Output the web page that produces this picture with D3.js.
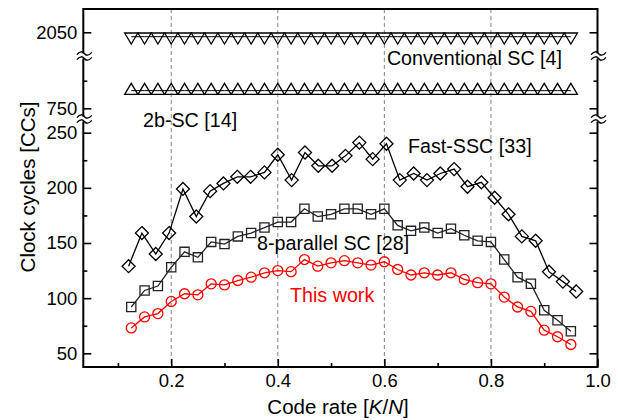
<!DOCTYPE html>
<html>
<head>
<meta charset="utf-8">
<script src="https://cdn.jsdelivr.net/npm/d3@7"></script>
<style>
  body { margin: 0; background: #fff; }
  text { font-family: "Liberation Sans", Arial, sans-serif; }
</style>
</head>
<body>
<div id="chart"></div>
<script>
// Code rates used by most designs (K/N)
const rates = [0.125, 0.15, 0.175, 0.2, 0.225, 0.25, 0.275, 0.3, 0.325, 0.35, 0.375, 0.4,
    0.425, 0.45, 0.475, 0.5, 0.525, 0.55, 0.575, 0.6, 0.625, 0.65, 0.675, 0.7,
    0.725, 0.75, 0.775, 0.8, 0.825, 0.85, 0.875, 0.9, 0.925, 0.95];
// Fast-SSC points sit on a slightly different rate grid
const fastRates = [0.12, 0.145, 0.171, 0.196, 0.222, 0.247, 0.273, 0.298, 0.324, 0.349, 0.375, 0.4,
    0.426, 0.451, 0.476, 0.502, 0.527, 0.553, 0.578, 0.604, 0.629, 0.655, 0.68, 0.705,
    0.731, 0.756, 0.782, 0.807, 0.833, 0.858, 0.884, 0.909, 0.935, 0.96];

const conventionalSC = [2046, 2046, 2046, 2046, 2046, 2046, 2046, 2046, 2046, 2046, 2046, 2046,
    2046, 2046, 2046, 2046, 2046, 2046, 2046, 2046, 2046, 2046, 2046, 2046,
    2046, 2046, 2046, 2046, 2046, 2046, 2046, 2046, 2046, 2046];
const twoBitSC = [766, 766, 766, 766, 766, 766, 766, 766, 766, 766, 766, 766,
    766, 766, 766, 766, 766, 766, 766, 766, 766, 766, 766, 766,
    766, 766, 766, 766, 766, 766, 766, 766, 766, 766];
const fastSSC = [129, 159, 140, 159, 199, 174, 197, 204, 210, 210, 214, 230,
    207, 232, 220, 220, 229, 241, 226, 240, 207, 213, 207, 213,
    217, 201, 205, 191, 176, 156, 152, 124, 115, 106];
const parallelSC = [92, 107, 111, 128, 142, 137, 151, 149, 156, 159, 164, 169,
    169, 181, 174, 176, 181, 181, 176, 181, 166, 161, 164, 159,
    163, 157, 152, 151, 135, 119, 113, 89, 80, 70];
const thisWork = [73, 83, 86, 97, 104, 103, 113, 112, 116, 119, 123, 125,
    124, 135, 129, 132, 134, 132, 130, 133, 126, 121, 123, 121,
    123, 117, 114, 113, 101, 92, 88, 71, 65, 58];

// Tick values
const xMajor = [0.2, 0.4, 0.6, 0.8, 1.0];
const xMinor = [0.1, 0.3, 0.5, 0.7, 0.9];
const yLowMajor = [50, 100, 150, 200, 250];
const yLowMinor = [75, 125, 175, 225];
const yMidMajor = [750];
const yMidMinor = [775];
const yTopMajor = [2050];

// Plot frame
const width = 618, height = 420;
const plotLeft = 83.3, plotRight = 597.5, plotTop = 9, plotBottom = 367;
const break1 = 56, break2 = 119;   // axis break positions (px)

const svg = d3.select("#chart").append("svg")
    .attr("width", width)
    .attr("height", height);

// Scales: one x, three stacked y segments
const x = d3.scaleLinear().domain([0.035, 1.0]).range([plotLeft, plotRight]);
const yTop = d3.scaleLinear().domain([2028.5, 2071.1]).range([break1, plotTop]);
const yMid = d3.scaleLinear().domain([740.3, 797.4]).range([break2, break1]);
const yLow = d3.scaleLinear().domain([37.6, 262.4]).range([plotBottom, break2]);

// Dashed vertical guides
svg.append("g").selectAll("line")
    .data([0.2, 0.4, 0.6, 0.8])
    .join("line")
    .attr("x1", d => x(d)).attr("x2", d => x(d))
    .attr("y1", plotTop).attr("y2", plotBottom)
    .attr("stroke", "#858585")
    .attr("stroke-width", 1)
    .attr("stroke-dasharray", "4,3");

// Axes helper
function styleAxis(g) {
    g.select(".domain").remove();
    g.selectAll(".tick line").attr("stroke", "#000").attr("stroke-width", 1.6);
    g.selectAll(".tick text")
        .attr("fill", "#000")
        .style("font-size", "18.5px");
}

// bottom axis
svg.append("g")
    .attr("transform", `translate(0,${plotBottom})`)
    .call(d3.axisBottom(x).tickValues(xMajor).tickSize(-8).tickPadding(7).tickFormat(d3.format(".1f")))
    .call(styleAxis);
svg.append("g")
    .attr("transform", `translate(0,${plotBottom})`)
    .call(d3.axisBottom(x).tickValues(xMinor).tickSize(-4).tickFormat(""))
    .call(styleAxis);

// left + right axes for each y segment
const segments = [
    { scale: yTop, major: yTopMajor, minor: [] },
    { scale: yMid, major: yMidMajor, minor: yMidMinor },
    { scale: yLow, major: yLowMajor, minor: yLowMinor }
];
segments.forEach(s => {
    svg.append("g")
        .attr("transform", `translate(${plotLeft},0)`)
        .call(d3.axisLeft(s.scale).tickValues(s.major).tickSize(-8).tickPadding(6).tickFormat(d3.format("d")))
        .call(styleAxis);
    svg.append("g")
        .attr("transform", `translate(${plotLeft},0)`)
        .call(d3.axisLeft(s.scale).tickValues(s.minor).tickSize(-4).tickFormat(""))
        .call(styleAxis);
    svg.append("g")
        .attr("transform", `translate(${plotRight},0)`)
        .call(d3.axisRight(s.scale).tickValues(s.major).tickSize(-8).tickFormat(""))
        .call(styleAxis);
    svg.append("g")
        .attr("transform", `translate(${plotRight},0)`)
        .call(d3.axisRight(s.scale).tickValues(s.minor).tickSize(-4).tickFormat(""))
        .call(styleAxis);
});

// Frame
svg.append("rect")
    .attr("x", plotLeft).attr("y", plotTop)
    .attr("width", plotRight - plotLeft).attr("height", plotBottom - plotTop)
    .attr("fill", "none")
    .attr("stroke", "#000")
    .attr("stroke-width", 2);

// Axis break marks
function tilde(cx, y) {
    return `M${cx - 7.5},${y + 1.2} C${cx - 4},${y - 3} ${cx - 1.5},${y - 2} ${cx},${y} S${cx + 4},${y + 3} ${cx + 7.5},${y - 1.2}`;
}
[plotLeft, plotRight].forEach(cx => {
    [break1, break2].forEach(cy => {
        svg.append("rect")
            .attr("x", cx - 3).attr("y", cy - 2.5)
            .attr("width", 6).attr("height", 5)
            .attr("fill", "#fff");
        svg.append("path").attr("d", tilde(cx + 1, cy - 2.5))
            .attr("fill", "none").attr("stroke", "#000").attr("stroke-width", 1.3);
        svg.append("path").attr("d", tilde(cx + 1, cy + 2.5))
            .attr("fill", "none").attr("stroke", "#000").attr("stroke-width", 1.3);
    });
});

// Marker shapes
const markers = {
    diamond: "M0,-6.5L6.5,0L0,6.5L-6.5,0Z",
    square: "M-4.6,-4.6H4.6V4.6H-4.6Z",
    circle: d3.symbol(d3.symbolCircle, Math.PI * 25)(),
    triDown: "M-6.6,-3.7H6.6L0,7.3Z",
    triUp: "M-6.6,3.7H6.6L0,-7.3Z"
};

const series = [
    { xs: rates, ys: conventionalSC, scale: yTop, color: "#000", marker: "triDown", lw: 1 },
    { xs: rates, ys: twoBitSC, scale: yMid, color: "#000", marker: "triUp", lw: 1 },
    { xs: fastRates, ys: fastSSC, scale: yLow, color: "#000", marker: "diamond", lw: 1.3 },
    { xs: rates, ys: parallelSC, scale: yLow, color: "#222", marker: "square", lw: 1.3 },
    { xs: rates, ys: thisWork, scale: yLow, color: "#ff0000", marker: "circle", lw: 1.3 }
];

series.forEach(s => {
    const pts = s.ys.map((v, i) => [x(s.xs[i]), s.scale(v)]);
    svg.append("path")
        .attr("d", d3.line()(pts))
        .attr("fill", "none")
        .attr("stroke", s.color)
        .attr("stroke-width", s.lw);
    svg.append("g").selectAll("path")
        .data(pts)
        .join("path")
        .attr("transform", d => `translate(${d[0]},${d[1]})`)
        .attr("d", markers[s.marker])
        .attr("fill", "none")
        .attr("stroke", s.color)
        .attr("stroke-width", 1.3);
});

// Series labels
const labels = [
    { text: "Conventional SC [4]", x: 562, y: 65, anchor: "end", color: "#000" },
    { text: "2b-SC [14]", x: 143, y: 127, anchor: "start", color: "#000" },
    { text: "Fast-SSC [33]", x: 408, y: 153, anchor: "start", color: "#000" },
    { text: "8-parallel SC [28]", x: 257, y: 250, anchor: "start", color: "#000" },
    { text: "This work", x: 290, y: 302, anchor: "start", color: "#ff0000" }
];
svg.append("g").selectAll("text")
    .data(labels)
    .join("text")
    .attr("x", d => d.x).attr("y", d => d.y)
    .attr("text-anchor", d => d.anchor)
    .attr("fill", d => d.color)
    .style("font-size", "19.7px")
    .text(d => d.text);

// Axis titles
svg.append("text")
    .attr("transform", "translate(35,187) rotate(-90)")
    .attr("text-anchor", "middle")
    .style("font-size", "20.5px")
    .text("Clock cycles [CCs]");

const xTitle = svg.append("text")
    .attr("x", 338).attr("y", 414)
    .attr("text-anchor", "middle")
    .style("font-size", "20.5px");
xTitle.append("tspan").text("Code rate [");
xTitle.append("tspan").style("font-style", "italic").text("K");
xTitle.append("tspan").text("/");
xTitle.append("tspan").style("font-style", "italic").text("N");
xTitle.append("tspan").text("]");
</script>
</body>
</html>
